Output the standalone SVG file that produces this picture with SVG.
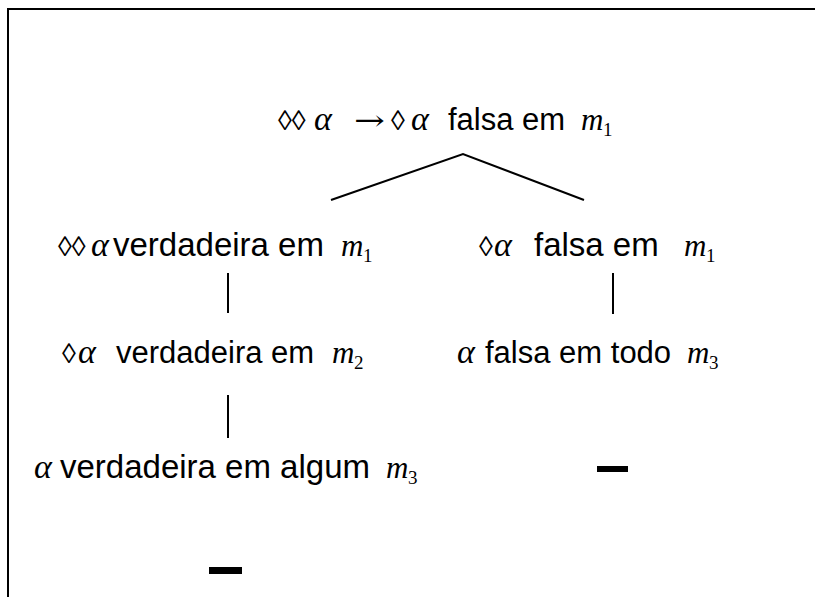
<svg xmlns="http://www.w3.org/2000/svg" width="815" height="597" viewBox="0 0 815 597">
  <style>
    .sans { font-family: "Liberation Sans", Arial, sans-serif; font-size: 31px; fill: #000; }
    .wide { font-size: 33px; }
    .sym { font-family: "Liberation Serif", "Times New Roman", serif; font-size: 28px; fill: #000; }
    .arr { font-family: "DejaVu Serif", "Liberation Serif", serif; font-size: 28px; fill: #000; }
    .gr { font-family: "Liberation Serif", "Times New Roman", serif; font-size: 34px; font-style: italic; fill: #000; }
    .mi { font-family: "Liberation Serif", "Times New Roman", serif; font-size: 31px; font-style: italic; fill: #000; }
    .sub { font-family: "Liberation Serif", "Times New Roman", serif; font-size: 19px; fill: #000; }
    .edge { stroke: #000; stroke-width: 2; fill: none; }
  </style>
  <rect width="815" height="597" fill="#fff"/>
  <!-- frame -->
  <path d="M8 600 V9 H820" fill="none" stroke="#000" stroke-width="2"/>

  <g id="root">
    <text class="sym" x="278" y="130">◊◊</text>
    <text class="gr" x="314" y="130">α</text>
    <text class="arr" x="354" y="130" textLength="31" lengthAdjust="spacingAndGlyphs">→</text>
    <text class="sym" x="391" y="130">◊</text>
    <text class="gr" x="411" y="130">α</text>
    <text class="sans" x="448" y="130">falsa em</text>
    <text class="mi" x="581" y="130">m</text>
    <text class="sub" x="603" y="136">1</text>
  </g>

  <g id="left1">
    <text class="sym" x="58" y="256">◊◊</text>
    <text class="gr" x="91" y="256">α</text>
    <text class="sans wide" x="113" y="256">verdadeira em</text>
    <text class="mi" x="341" y="256">m</text>
    <text class="sub" x="363" y="262">1</text>
  </g>

  <g id="right1">
    <text class="sym" x="479" y="256">◊</text>
    <text class="gr" x="494" y="256">α</text>
    <text class="sans wide" x="534" y="256">falsa em</text>
    <text class="mi" x="684" y="256">m</text>
    <text class="sub" x="706" y="262">1</text>
  </g>

  <g id="left2">
    <text class="sym" x="62" y="363">◊</text>
    <text class="gr" x="78" y="363">α</text>
    <text class="sans" x="116" y="363">verdadeira em</text>
    <text class="mi" x="332" y="363">m</text>
    <text class="sub" x="354" y="369">2</text>
  </g>

  <g id="right2">
    <text class="gr" x="457" y="363">α</text>
    <text class="sans" x="485" y="363">falsa em todo</text>
    <text class="mi" x="687" y="363">m</text>
    <text class="sub" x="709" y="369">3</text>
  </g>

  <g id="left3">
    <text class="gr" x="34" y="478">α</text>
    <text class="sans wide" x="60" y="478">verdadeira em algum</text>
    <text class="mi" x="386" y="478">m</text>
    <text class="sub" x="408" y="484">3</text>
  </g>

  <g id="close-right">
    <rect x="597" y="466" width="31" height="6" fill="#000"/>
  </g>
  <g id="close-left">
    <rect x="209" y="567" width="33" height="7" fill="#000"/>
  </g>

  <g id="connectors">
    <path class="edge" d="M331 200 L463 154 L584 200"/>
    <path class="edge" d="M228 273 V313"/>
    <path class="edge" d="M228 395 V438"/>
    <path class="edge" d="M613 273 V314"/>
  </g>
</svg>
